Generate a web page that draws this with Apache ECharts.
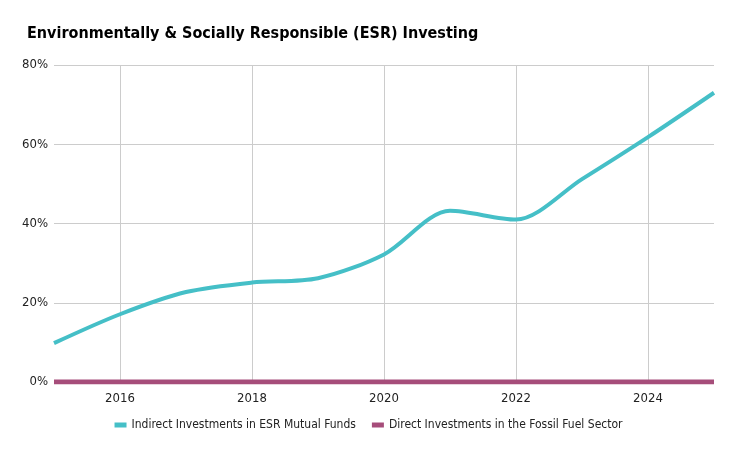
<!DOCTYPE html>
<html>
<head>
<meta charset="utf-8">
<script src="https://cdn.jsdelivr.net/npm/echarts@6/dist/echarts.min.js"></script>
<style>
  html, body { margin: 0; padding: 0; background: #fff; }
  #chart { width: 737px; height: 456px; }
</style>
</head>
<body>
<div id="chart"></div>
<script>
// years on the x axis
const years = ['2015', '2016', '2017', '2018', '2019', '2020', '2021', '2022', '2023', '2024', '2025'];
// share of portfolio, percent
const esrFunds = [9.8, 17.1, 22.7, 25.1, 26.2, 32.2, 43.2, 41.0, 51.2, 61.8, 73.0];
const fossilDirect = [0, 0, 0, 0, 0, 0, 0, 0, 0, 0, 0];
const yTicks = [0, 20, 40, 60, 80];

const font = 'DejaVu Sans Condensed, DejaVu Sans, sans-serif';

echarts.init(document.getElementById('chart')).setOption({
  animation: false,
  title: {
    text: 'Environmentally & Socially Responsible (ESR) Investing',
    left: 22,
    top: 21,
    textStyle: { fontFamily: font, fontSize: 16, fontWeight: 'bold', color: '#000' }
  },
  grid: { left: 54, right: 23, top: 65, bottom: 74 },
  legend: {
    bottom: 20,
    left: 'center',
    icon: 'rect',
    itemWidth: 12,
    itemHeight: 5,
    itemGap: 16,
    textStyle: { fontFamily: font, fontSize: 12, color: '#222' },
    data: ['Indirect Investments in ESR Mutual Funds', 'Direct Investments in the Fossil Fuel Sector']
  },
  xAxis: {
    type: 'category',
    data: years,
    boundaryGap: false,
    axisLine: { show: false },
    axisTick: { show: false },
    axisLabel: {
      interval: (i) => i % 2 === 1,
      fontFamily: font, fontSize: 13, color: '#222', margin: 10
    },
    splitLine: {
      show: true,
      interval: (i) => i % 2 === 1,
      lineStyle: { color: '#cccccc', width: 1 }
    }
  },
  yAxis: {
    type: 'value',
    min: yTicks[0],
    max: yTicks[yTicks.length - 1],
    interval: 20,
    axisLine: { show: false },
    axisTick: { show: false },
    axisLabel: { formatter: '{value}%', fontFamily: font, fontSize: 13, color: '#222', margin: 6 },
    splitLine: { lineStyle: { color: '#cccccc', width: 1 } }
  },
  series: [
    {
      name: 'Indirect Investments in ESR Mutual Funds',
      type: 'line',
      data: esrFunds,
      smooth: 0.3,
      showSymbol: false,
      itemStyle: { color: '#45bfc7' },
      lineStyle: { width: 4, color: '#45bfc7' }
    },
    {
      name: 'Direct Investments in the Fossil Fuel Sector',
      type: 'line',
      data: fossilDirect,
      showSymbol: false,
      itemStyle: { color: '#a64d7a' },
      lineStyle: { width: 5, color: '#a64d7a' },
      z: 3
    }
  ]
});
</script>
</body>
</html>
